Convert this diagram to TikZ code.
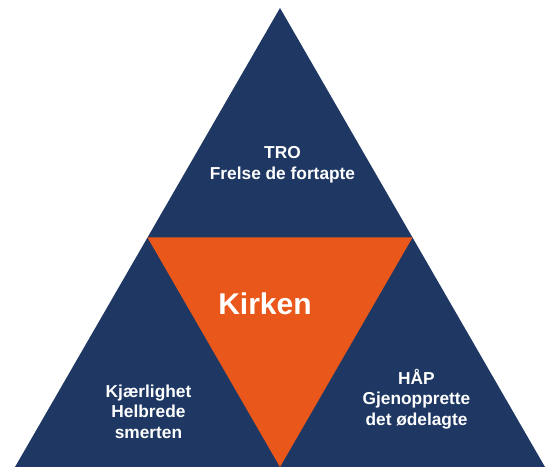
\documentclass[tikz,border=0pt]{standalone}
\usepackage{fontspec}
\setsansfont{Liberation Sans}
\usetikzlibrary{calc}
\definecolor{kirkeblue}{RGB}{30,56,99}
\definecolor{kirkeorange}{RGB}{233,87,26}

\begin{document}
\begin{tikzpicture}[x=1bp,y=-1bp,font=\sffamily\bfseries,
  lbl/.style={text=white,align=center,inner sep=0pt,font=\sffamily\bfseries\fontsize{17.3bp}{20.5bp}\selectfont},
  big/.style={text=white,inner sep=0pt,font=\sffamily\bfseries\fontsize{30bp}{36bp}\selectfont}]
\useasboundingbox (0,0) rectangle (547,467);
\coordinate (top) at (280,8);
\coordinate (bl) at (15,467);
\coordinate (br) at (545,467);
\coordinate (ml) at ($(top)!0.5!(bl)$);
\coordinate (mr) at ($(top)!0.5!(br)$);
\coordinate (mb) at ($(bl)!0.5!(br)$);
\fill[kirkeblue] (top)--(bl)--(br)--cycle;
\fill[kirkeorange] (ml)--(mr)--(mb)--cycle;
\node[lbl](tro) at (282.5,165){TRO\\Frelse de fortapte};
\node[big](kirken) at (265,304){Kirken};
\node[lbl](kj) at (148.5,411.5){Kjærlighet\\Helbrede\\smerten};
\node[lbl](hap) at (416.5,399){HÅP\\Gjenopprette\\det ødelagte};
\end{tikzpicture}
\end{document}
